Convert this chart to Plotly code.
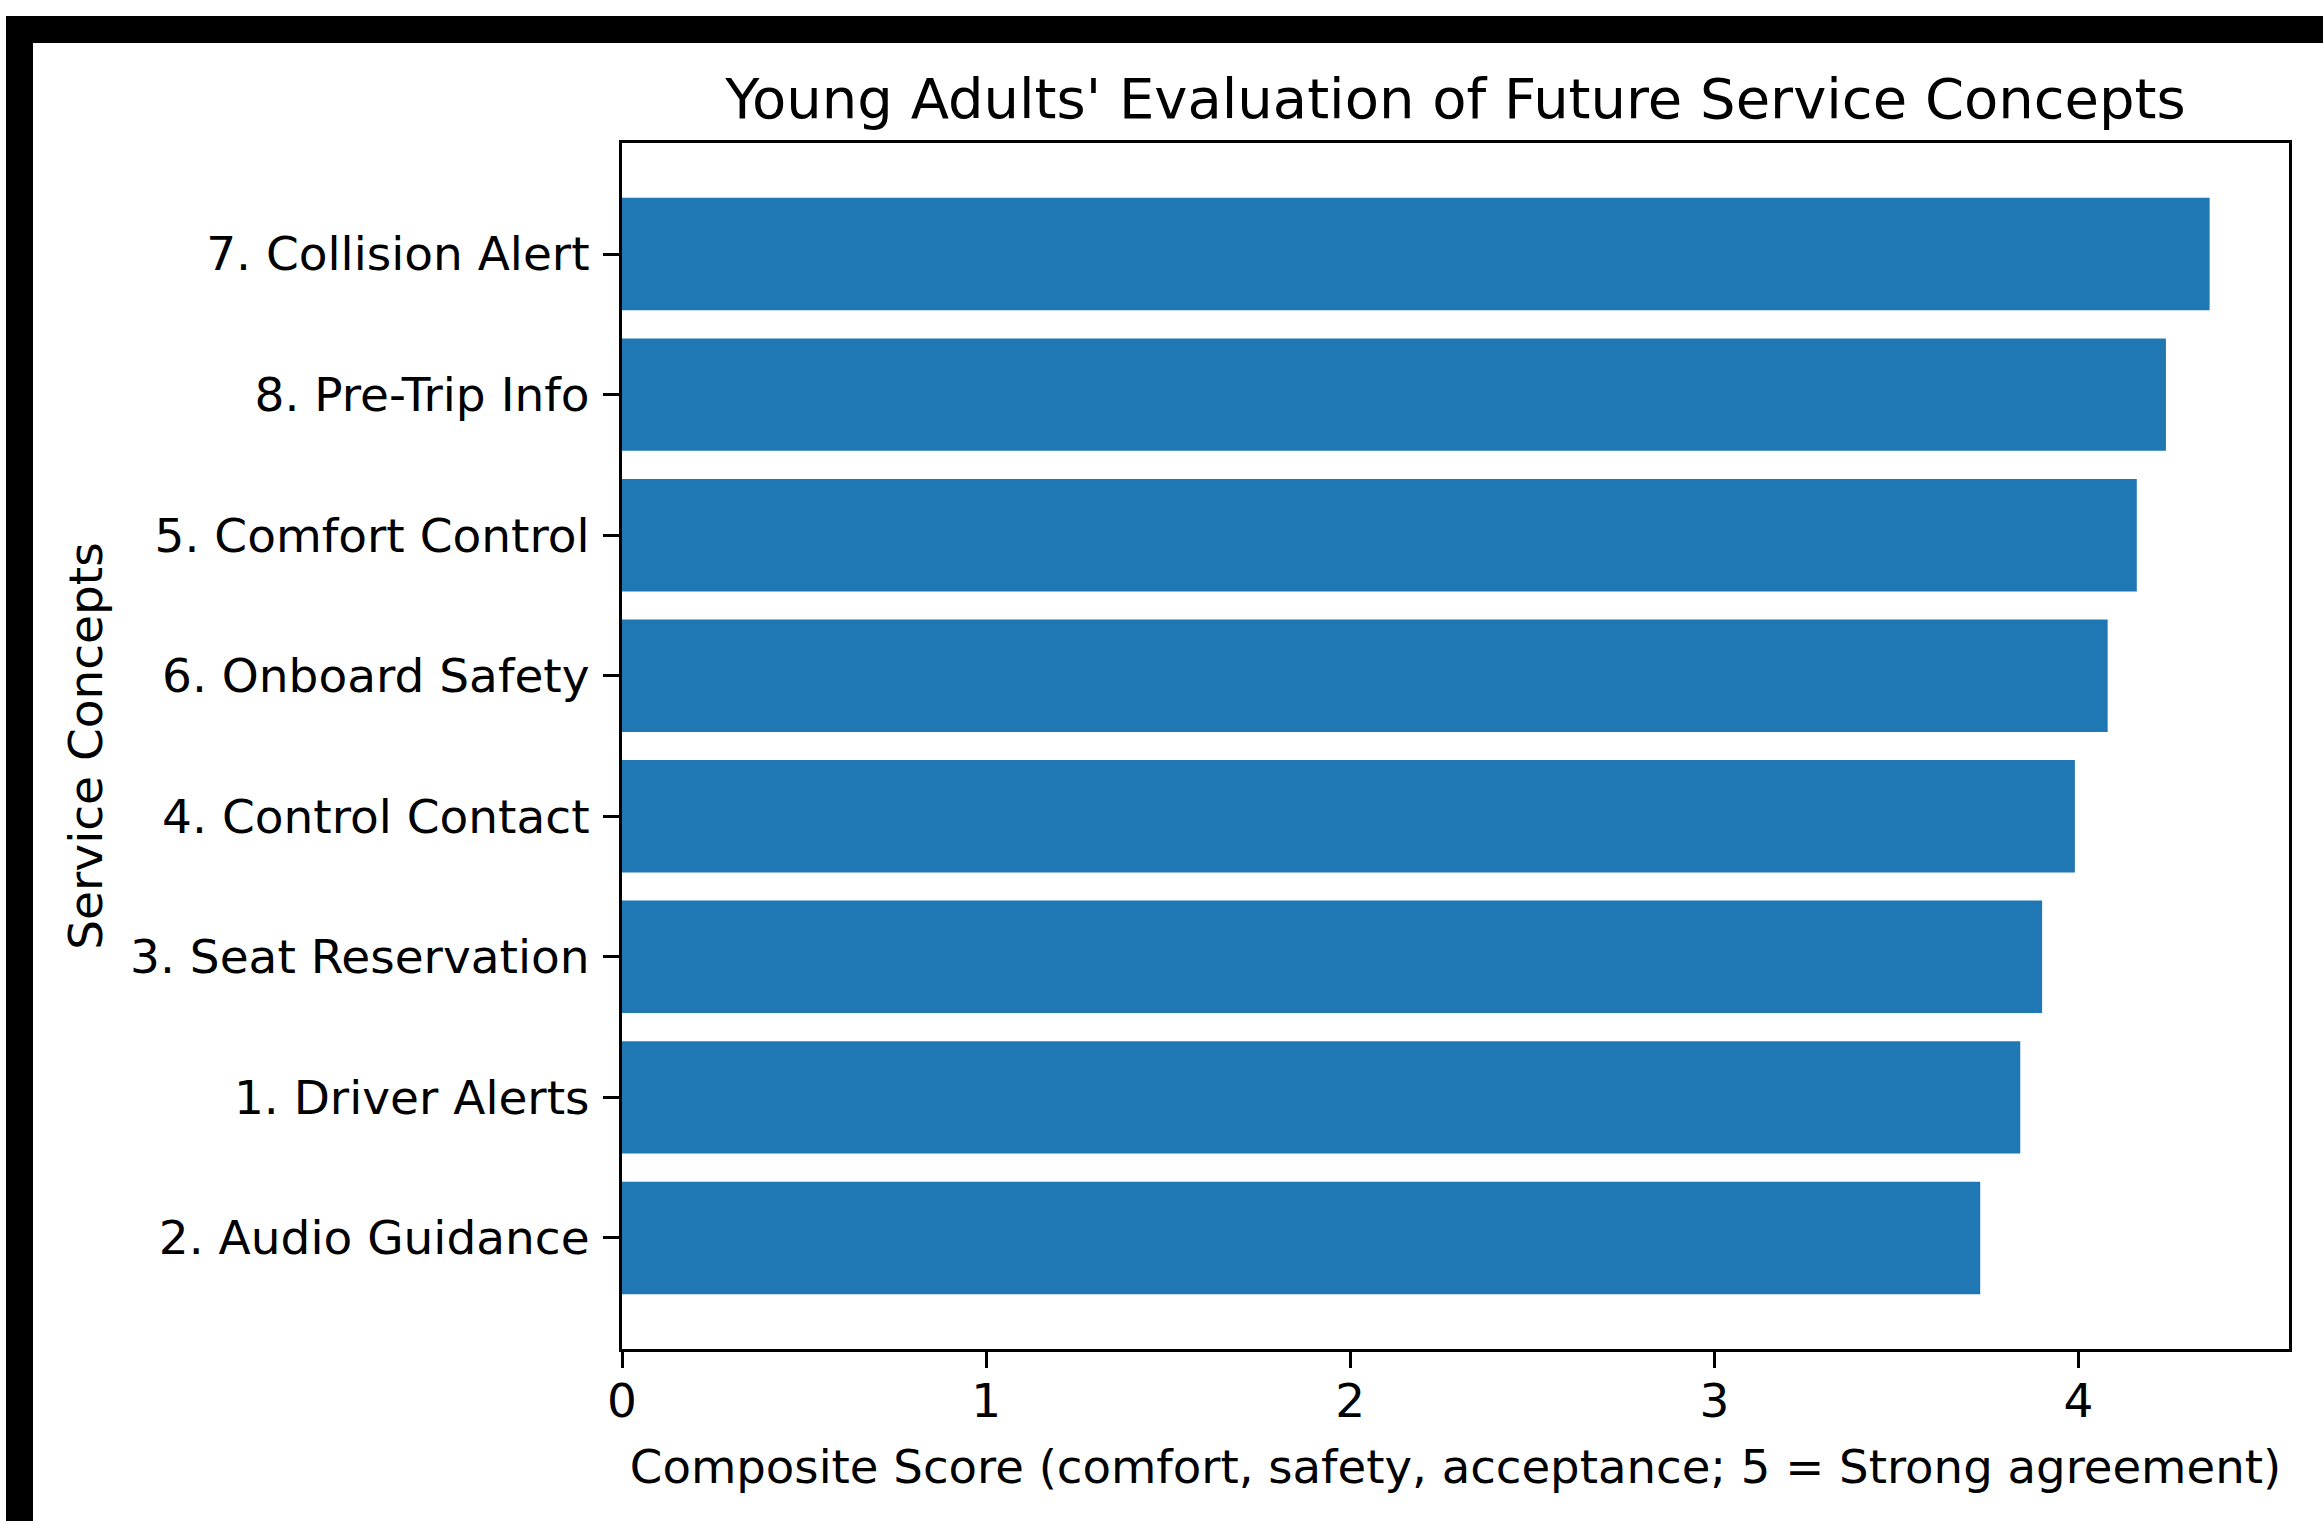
import plotly.graph_objects as go

# ---- data (bottom to top as drawn) ----
concepts = [
    "2. Audio Guidance",
    "1. Driver Alerts",
    "3. Seat Reservation",
    "4. Control Contact",
    "6. Onboard Safety",
    "5. Comfort Control",
    "8. Pre-Trip Info",
    "7. Collision Alert",
]
scores = [3.73, 3.84, 3.90, 3.99, 4.08, 4.16, 4.24, 4.36]
x_ticks = [0, 1, 2, 3, 4]

title_text = "Young Adults' Evaluation of Future Service Concepts"
x_title = "Composite Score (comfort, safety, acceptance; 5 = Strong agreement)"
y_title = "Service Concepts"

# ---- layout geometry (pixels) ----
W, H = 2323, 1521
L, R, T, B = 622, 2289, 143, 1349  # plot area edges
FONT = "DejaVu Sans"


def px_x(p):
    return (p - L) / (R - L)


def px_y(p):
    return (B - p) / (B - T)


fig = go.Figure(
    go.Bar(
        x=scores,
        y=list(range(len(concepts))),
        orientation="h",
        width=0.8,
        marker=dict(color="#1f77b4", line=dict(width=0)),
        showlegend=False,
    )
)

xmax = max(scores) * 1.05

fig.update_layout(
    width=W,
    height=H,
    margin=dict(l=L, r=W - R, t=T, b=H - B, pad=0),
    paper_bgcolor="white",
    plot_bgcolor="white",
    font=dict(family=FONT, size=47, color="black"),
    title=dict(
        text=title_text,
        font=dict(family=FONT, size=56, color="black"),
        x=0.5,
        xref="paper",
        xanchor="center",
        y=1 - 98 / H,
        yref="container",
        yanchor="middle",
    ),
    xaxis=dict(
        range=[0, xmax],
        tickvals=x_ticks,
        ticktext=[str(v) for v in x_ticks],
        showgrid=False,
        zeroline=False,
        showline=True,
        linecolor="black",
        linewidth=3,
        mirror=True,
        ticks="outside",
        ticklen=16,
        tickwidth=3,
        tickcolor="black",
        ticklabelstandoff=-7,
        tickfont=dict(size=47),
        title=dict(text=x_title, font=dict(size=46.6), standoff=23),
    ),
    yaxis=dict(
        range=[-0.79, len(concepts) - 1 + 0.79],
        tickvals=list(range(len(concepts))),
        ticktext=concepts,
        showgrid=False,
        zeroline=False,
        showline=True,
        linecolor="black",
        linewidth=3,
        mirror=True,
        ticks="outside",
        ticklen=16,
        tickwidth=3,
        tickcolor="black",
        ticklabelstandoff=4,
        tickfont=dict(size=47),
        title=dict(text=y_title, font=dict(size=47), standoff=13),
    ),
    shapes=[
        # thick black frame strip along top
        dict(type="rect", xref="paper", yref="paper",
             x0=px_x(6), x1=px_x(W + 5), y0=px_y(43), y1=px_y(16),
             fillcolor="black", line=dict(width=0), layer="above"),
        # thick black frame strip along left
        dict(type="rect", xref="paper", yref="paper",
             x0=px_x(6), x1=px_x(33), y0=px_y(H + 5), y1=px_y(16),
             fillcolor="black", line=dict(width=0), layer="above"),
    ],
)

fig.write_html(
    "out.html",
    config={"displayModeBar": False},
    post_script="document.body.style.margin='0';document.body.style.overflow='hidden';",
)
